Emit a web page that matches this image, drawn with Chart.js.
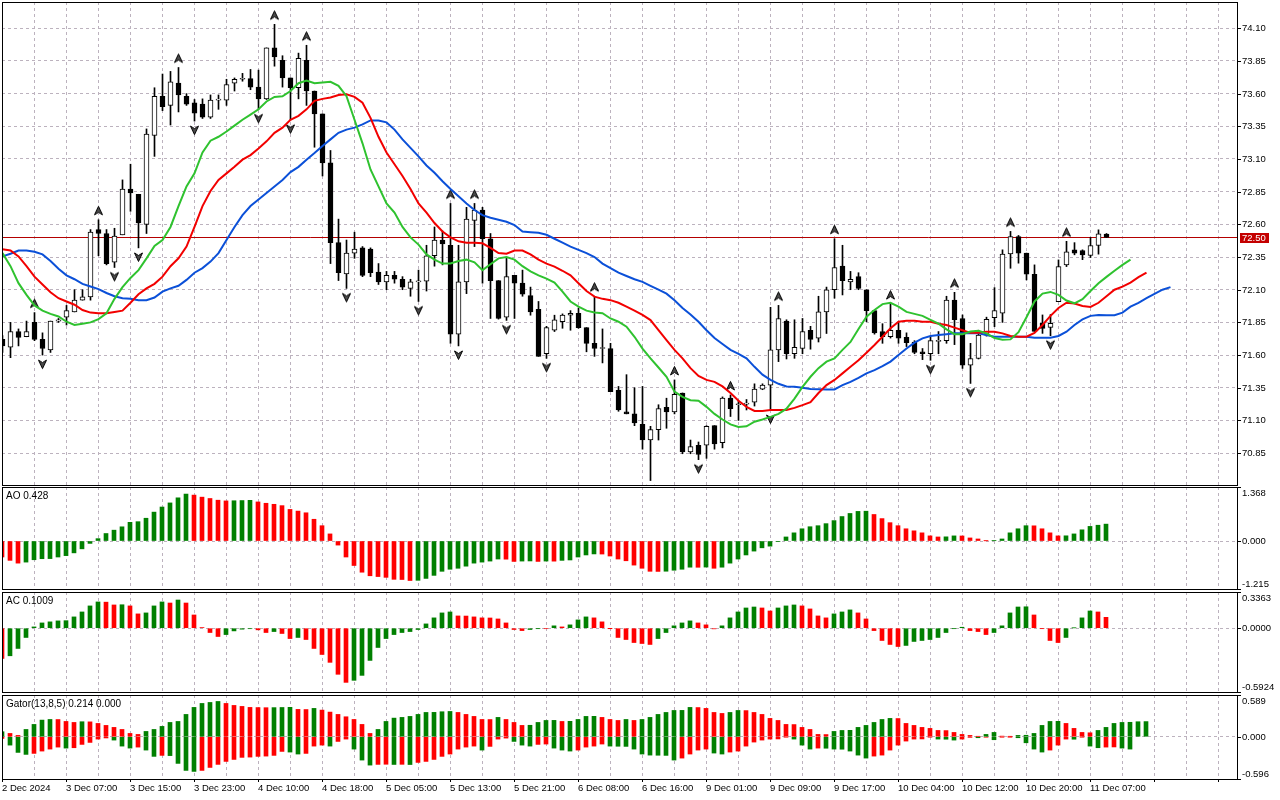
<!DOCTYPE html>
<html>
<head>
<meta charset="utf-8">
<script src="https://cdn.jsdelivr.net/npm/chart.js@4.4.1/dist/chart.umd.min.js"></script>
<style>
  html, body { margin: 0; padding: 0; background: #fff; }
  #wrap { position: relative; width: 1280px; height: 800px; overflow: hidden; }
  canvas { position: absolute; left: 0; }
</style>
</head>
<body>
<div id="wrap">
  <canvas id="main" width="1280" height="486" style="top:0px"></canvas>
  <canvas id="ao" width="1280" height="104" style="top:486px"></canvas>
  <canvas id="ac" width="1280" height="102" style="top:591px"></canvas>
  <canvas id="gator" width="1280" height="106" style="top:694px"></canvas>
</div>
<script>
// H1 bars, index 0 = first visible bar
const timeLabels = ['2 Dec 2024', '3 Dec 07:00', '3 Dec 15:00', '3 Dec 23:00', '4 Dec 10:00', '4 Dec 18:00',
  '5 Dec 05:00', '5 Dec 13:00', '5 Dec 21:00', '6 Dec 08:00', '6 Dec 16:00', '9 Dec 01:00', '9 Dec 09:00',
  '9 Dec 17:00', '10 Dec 04:00', '10 Dec 12:00', '10 Dec 20:00', '11 Dec 07:00'];
const priceTicks = [70.85, 71.10, 71.35, 71.60, 71.85, 72.10, 72.35, 72.60, 72.85, 73.10, 73.35, 73.60, 73.85, 74.10];
const lastPrice = 72.50;

const open = [
  71.72, 71.66, 71.78, 71.74, 71.85, 71.72, 71.64, 71.86, 71.89, 71.93,
  72.02, 72.045, 72.56, 72.53, 72.31, 72.52, 72.87, 72.83, 72.60, 73.28,
  73.58, 73.51, 73.68, 73.58, 73.53, 73.52, 73.42, 73.55, 73.55, 73.68,
  73.71, 73.715, 73.65, 73.56, 73.95, 73.855, 73.72, 73.645, 73.855, 73.62,
  73.445, 73.07, 72.46, 72.22, 72.38, 72.42, 72.41, 72.235, 72.16, 72.21,
  72.18, 72.11, 72.16, 72.165, 72.36, 72.48, 72.44, 71.76, 72.16, 72.63,
  72.71, 72.49, 72.17, 71.89, 72.21, 72.15, 72.055, 71.95, 71.61, 71.79,
  71.855, 71.905, 71.92, 71.81, 71.69, 71.65, 71.65, 71.33, 71.165, 71.15,
  71.07, 70.95, 71.03, 71.20, 71.165, 71.31, 70.86, 70.91, 70.91, 71.06,
  70.93, 71.27, 71.22, 71.225, 71.24, 71.34, 71.37, 71.64, 71.86, 71.61,
  71.65, 71.79, 71.73, 71.93, 72.10, 72.28, 72.16, 72.20, 72.10, 71.94,
  71.78, 71.74, 71.79, 71.735, 71.70, 71.625, 71.61, 71.705, 71.71, 72.02,
  71.88, 71.523, 71.574, 71.753, 71.886, 71.92, 72.374, 72.507, 72.38, 72.218,
  71.843, 71.812, 72.009, 72.29, 72.405, 72.40, 72.362, 72.438, 72.525];
const high = [
  71.75, 71.85, 71.80, 71.86, 71.925, 71.77, 71.86, 71.88, 71.98, 72.10,
  72.10, 72.56, 72.635, 72.56, 72.57, 72.94, 73.06, 72.83, 73.33, 73.645,
  73.75, 73.77, 73.80, 73.60, 73.555, 73.56, 73.59, 73.59, 73.71, 73.72,
  73.755, 73.785, 73.78, 73.95, 74.13, 73.89, 73.72, 73.91, 73.97, 73.62,
  73.445, 73.165, 72.64, 72.48, 72.54, 72.43, 72.42, 72.30, 72.24, 72.24,
  72.20, 72.18, 72.25, 72.44, 72.58, 72.55, 72.76, 72.44, 72.73, 72.76,
  72.73, 72.53, 72.17, 72.34, 72.21, 72.25, 72.12, 72.01, 71.82, 71.905,
  71.915, 71.94, 71.96, 71.81, 72.05, 71.80, 71.69, 71.36, 71.45, 71.35,
  71.36, 71.055, 71.22, 71.27, 71.41, 71.31, 70.95, 70.935, 71.06, 71.06,
  71.28, 71.295, 71.25, 71.26, 71.38, 71.38, 71.965, 71.98, 71.87, 71.87,
  71.88, 71.82, 72.05, 72.12, 72.49, 72.44, 72.24, 72.23, 72.10, 71.94,
  71.84, 71.99, 71.855, 71.77, 71.71, 71.65, 71.74, 71.78, 72.05, 72.08,
  71.907, 71.69, 71.79, 71.89, 72.116, 72.405, 72.546, 72.515, 72.38, 72.29,
  71.907, 71.91, 72.328, 72.47, 72.46, 72.405, 72.50, 72.558, 72.53];
const low = [
  71.62, 71.58, 71.67, 71.74, 71.71, 71.60, 71.62, 71.85, 71.83, 71.93,
  72.02, 72.02, 72.36, 72.29, 72.27, 72.52, 72.70, 72.42, 72.53, 73.12,
  73.47, 73.36, 73.46, 73.51, 73.39, 73.41, 73.41, 73.48, 73.51, 73.62,
  73.695, 73.63, 73.48, 73.555, 73.81, 73.65, 73.40, 73.56, 73.51, 73.19,
  72.97, 72.30, 72.17, 72.11, 72.34, 72.20, 72.20, 72.14, 72.10, 72.15,
  72.10, 72.05, 72.01, 72.09, 72.28, 72.29, 71.69, 71.67, 72.07, 72.43,
  72.15, 71.88, 71.875, 71.865, 71.88, 72.05, 71.905, 71.59, 71.575, 71.78,
  71.805, 71.79, 71.805, 71.625, 71.59, 71.54, 71.32, 71.17, 71.15, 71.06,
  70.88, 70.64, 70.95, 71.04, 71.15, 70.845, 70.845, 70.80, 70.81, 70.88,
  70.89, 71.13, 71.10, 71.18, 71.21, 71.335, 71.18, 71.55, 71.57, 71.575,
  71.61, 71.645, 71.70, 71.765, 72.035, 72.06, 72.10, 72.10, 71.855, 71.76,
  71.69, 71.73, 71.69, 71.665, 71.61, 71.565, 71.56, 71.61, 71.69, 71.68,
  71.498, 71.383, 71.57, 71.745, 71.817, 71.85, 72.264, 72.303, 72.175, 71.78,
  71.766, 71.748, 72.009, 72.277, 72.367, 72.33, 72.346, 72.372, 72.50];
const close = [
  71.67, 71.78, 71.735, 71.78, 71.72, 71.65, 71.86, 71.87, 71.94, 72.02,
  72.045, 72.54, 72.53, 72.30, 72.51, 72.87, 72.84, 72.61, 73.29, 73.58,
  73.50, 73.69, 73.59, 73.52, 73.45, 73.42, 73.55, 73.555, 73.67, 73.71,
  73.715, 73.65, 73.56, 73.95, 73.88, 73.72, 73.645, 73.87, 73.62, 73.445,
  73.07, 72.46, 72.23, 72.38, 72.41, 72.21, 72.23, 72.16, 72.21, 72.18,
  72.12, 72.16, 72.165, 72.36, 72.48, 72.45, 71.76, 72.16, 72.64, 72.71,
  72.49, 72.17, 71.88, 72.20, 72.15, 72.065, 71.93, 71.59, 71.81, 71.87,
  71.905, 71.92, 71.81, 71.69, 71.65, 71.652, 71.32, 71.18, 71.15, 71.08,
  70.95, 71.03, 71.19, 71.165, 71.30, 70.86, 70.90, 70.84, 71.055, 70.92,
  71.27, 71.19, 71.225, 71.225, 71.34, 71.37, 71.64, 71.88, 71.61, 71.66,
  71.78, 71.72, 71.93, 72.10, 72.27, 72.17, 72.18, 72.11, 71.94, 71.77,
  71.74, 71.79, 71.73, 71.695, 71.62, 71.61, 71.71, 71.71, 72.02, 71.87,
  71.523, 71.574, 71.753, 71.874, 71.94, 72.372, 72.507, 72.38, 72.218, 71.78,
  71.804, 71.843, 72.277, 72.39, 72.38, 72.367, 72.438, 72.528, 72.50];

// Alligator lines as drawn (already shifted forward)
const lips = [
  72.38, 72.28, 72.15, 72.06, 71.98, 71.94, 71.915, 71.895, 71.855, 71.83,
  71.84, 71.85, 71.875, 71.92, 72.03, 72.12, 72.19, 72.25, 72.34, 72.435,
  72.48, 72.58, 72.74, 72.89, 72.99, 73.15, 73.24, 73.27, 73.31, 73.355,
  73.40, 73.44, 73.48, 73.54, 73.575, 73.58, 73.62, 73.68, 73.70, 73.68,
  73.685, 73.69, 73.66, 73.58, 73.40, 73.22, 73.02, 72.89, 72.76, 72.69,
  72.58, 72.50, 72.445, 72.37, 72.33, 72.30, 72.30, 72.32, 72.33, 72.31,
  72.25, 72.295, 72.34, 72.35, 72.33, 72.28, 72.24, 72.21, 72.185, 72.155,
  72.086, 72.01, 71.97, 71.94, 71.925, 71.92, 71.88, 71.855, 71.817, 71.74,
  71.65, 71.575, 71.505, 71.434, 71.32, 71.28, 71.255, 71.25, 71.204, 71.15,
  71.107, 71.07, 71.05, 71.055, 71.09, 71.107, 71.127, 71.15, 71.19, 71.267,
  71.357, 71.434, 71.50, 71.55, 71.575, 71.64, 71.70, 71.80, 71.894, 71.945,
  71.99, 72.00, 71.97, 71.93, 71.915, 71.90, 71.87, 71.84, 71.797, 71.76,
  71.76, 71.78, 71.786, 71.766, 71.73, 71.718, 71.72, 71.775, 71.89, 72.01,
  72.07, 72.083, 72.06, 72.017, 71.996, 72.027, 72.09, 72.15, 72.198, 72.245,
  72.29, 72.33];
const teeth = [
  72.41, 72.40, 72.355, 72.28, 72.20, 72.14, 72.08, 72.035, 72.01, 71.985,
  71.945, 71.925, 71.92, 71.92, 71.93, 71.94, 72.00, 72.065, 72.11, 72.145,
  72.20, 72.28, 72.34, 72.43, 72.58, 72.74, 72.855, 72.94, 72.99, 73.04,
  73.095, 73.13, 73.18, 73.235, 73.30, 73.34, 73.40, 73.43, 73.48, 73.545,
  73.56, 73.57, 73.59, 73.595, 73.575, 73.53, 73.415, 73.27, 73.15, 73.06,
  72.97, 72.87, 72.76, 72.69, 72.61, 72.545, 72.50, 72.47, 72.46, 72.46,
  72.455, 72.42, 72.38, 72.375, 72.40, 72.40, 72.37, 72.33, 72.30, 72.277,
  72.245, 72.21, 72.15, 72.09, 72.047, 72.03, 72.02, 72.00, 71.97, 71.94,
  71.907, 71.868, 71.79, 71.715, 71.64, 71.575, 71.50, 71.44, 71.41, 71.395,
  71.36, 71.31, 71.25, 71.204, 71.173, 71.172, 71.18, 71.18, 71.18, 71.196,
  71.217, 71.24, 71.31, 71.37, 71.41, 71.46, 71.51, 71.56, 71.618, 71.677,
  71.74, 71.805, 71.855, 71.863, 71.862, 71.855, 71.855, 71.84, 71.83, 71.81,
  71.79, 71.77, 71.77, 71.779, 71.779, 71.766, 71.746, 71.74, 71.74, 71.77,
  71.83, 71.90, 71.96, 72.00, 71.995, 71.975, 71.968, 72.00, 72.05, 72.10,
  72.124, 72.155, 72.196, 72.23];
const jaw = [
  72.355, 72.375, 72.40, 72.40, 72.39, 72.37, 72.32, 72.26, 72.21, 72.18,
  72.145, 72.125, 72.105, 72.075, 72.05, 72.035, 72.03, 72.02, 72.02, 72.04,
  72.085, 72.11, 72.13, 72.175, 72.23, 72.265, 72.315, 72.38, 72.48, 72.58,
  72.67, 72.74, 72.79, 72.84, 72.89, 72.94, 73.00, 73.04, 73.095, 73.145,
  73.20, 73.25, 73.30, 73.325, 73.34, 73.365, 73.395, 73.395, 73.38, 73.325,
  73.25, 73.185, 73.12, 73.05, 72.995, 72.93, 72.87, 72.815, 72.76, 72.71,
  72.67, 72.65, 72.635, 72.62, 72.595, 72.545, 72.54, 72.535, 72.52, 72.49,
  72.46, 72.43, 72.405, 72.38, 72.35, 72.30, 72.265, 72.23, 72.205, 72.18,
  72.16, 72.13, 72.10, 72.07, 72.02, 71.96, 71.91, 71.855, 71.79, 71.73,
  71.685, 71.64, 71.61, 71.575, 71.51, 71.45, 71.41, 71.38, 71.36, 71.357,
  71.35, 71.34, 71.338, 71.337, 71.337, 71.37, 71.395, 71.426, 71.46, 71.485,
  71.515, 71.55, 71.60, 71.65, 71.695, 71.728, 71.746, 71.753, 71.76, 71.766,
  71.766, 71.766, 71.766, 71.753, 71.74, 71.74, 71.74, 71.74, 71.74, 71.733,
  71.733, 71.733, 71.746, 71.779, 71.83, 71.873, 71.90, 71.907, 71.905, 71.905,
  71.925, 71.97, 72.00, 72.035, 72.068, 72.10, 72.12];

// bar indexes that carry a fractal arrow
const fractalUp = [4, 12, 22, 34, 38, 56, 59, 74, 84, 91, 97, 104, 111, 119, 126, 133];
const fractalDown = [5, 14, 17, 24, 32, 36, 43, 52, 57, 63, 68, 81, 87, 96, 116, 121, 131];

const ao = [
  -0.405, -0.49, -0.56, -0.534, -0.474, -0.448, -0.445, -0.405, -0.37, -0.30,
  -0.198, -0.06, 0.06, 0.19, 0.275, 0.36, 0.474, 0.49, 0.577, 0.732,
  0.861, 0.965, 1.094, 1.189, 1.163, 1.111, 1.077, 1.034, 1.016, 1.02,
  1.025, 1.03, 0.99, 0.956, 0.93, 0.896, 0.80, 0.758, 0.715, 0.551,
  0.388, 0.18, -0.103, -0.405, -0.62, -0.79, -0.88, -0.90, -0.92, -0.97,
  -0.975, -1.00, -0.995, -0.947, -0.87, -0.767, -0.715, -0.69, -0.637, -0.56,
  -0.534, -0.508, -0.456, -0.46, -0.517, -0.508, -0.505, -0.517, -0.508, -0.51,
  -0.49, -0.48, -0.405, -0.353, -0.327, -0.33, -0.38, -0.456, -0.50, -0.61,
  -0.69, -0.767, -0.77, -0.765, -0.74, -0.715, -0.663, -0.665, -0.66, -0.69,
  -0.663, -0.56, -0.456, -0.353, -0.255, -0.172, -0.13, -0.01, 0.103, 0.207,
  0.31, 0.362, 0.388, 0.44, 0.517, 0.62, 0.698, 0.75, 0.755, 0.672,
  0.568, 0.465, 0.388, 0.31, 0.258, 0.207, 0.13, 0.103, 0.106, 0.13,
  0.128, 0.078, 0.052, 0.005, 0.008, 0.052, 0.207, 0.31, 0.388, 0.385,
  0.31, 0.207, 0.13, 0.132, 0.18, 0.284, 0.37, 0.40, 0.428];
const ac = [
  -0.281, -0.256, -0.188, -0.086, 0.012, 0.049, 0.059, 0.068, 0.07, 0.105,
  0.151, 0.207, 0.244, 0.242, 0.216, 0.218, 0.207, 0.133, 0.142, 0.207,
  0.244, 0.234, 0.262, 0.234, 0.123, 0.006, -0.04, -0.077, -0.059, -0.025,
  -0.009, -0.004, -0.015, -0.04, -0.031, -0.049, -0.096, -0.086, -0.105, -0.188,
  -0.244, -0.317, -0.428, -0.503, -0.484, -0.438, -0.299, -0.179, -0.096, -0.059,
  -0.04, -0.031, -0.012, 0.04, 0.096, 0.142, 0.151, 0.114, 0.113, 0.105,
  0.096, 0.095, 0.086, 0.049, -0.012, -0.022, -0.012, -0.003, -0.004, 0.022,
  0.012, 0.031, 0.077, 0.105, 0.096, 0.059, -0.001, -0.086, -0.105, -0.133,
  -0.142, -0.151, -0.096, -0.04, 0.022, 0.049, 0.068, 0.049, 0.031, -0.006,
  0.022, 0.096, 0.151, 0.188, 0.197, 0.188, 0.16, 0.188, 0.207, 0.216,
  0.207, 0.179, 0.114, 0.096, 0.133, 0.151, 0.17, 0.142, 0.086, -0.022,
  -0.114, -0.151, -0.17, -0.16, -0.123, -0.114, -0.105, -0.086, -0.04, -0.003,
  0.009, -0.022, -0.031, -0.059, -0.04, 0.022, 0.142, 0.197, 0.199, 0.123,
  -0.003, -0.114, -0.133, -0.086, 0.003, 0.096, 0.16, 0.151, 0.1009];
const gatorUp = [
  0.071, 0.047, 0.019, 0.103, 0.174, 0.235, 0.244, 0.243, 0.216, 0.202,
  0.212, 0.210, 0.188, 0.160, 0.132, 0.103, 0.047, 0.033, 0.075, 0.103,
  0.146, 0.202, 0.216, 0.315, 0.414, 0.470, 0.484, 0.498, 0.470, 0.442,
  0.428, 0.414, 0.412, 0.410, 0.411, 0.413, 0.415, 0.386, 0.384, 0.400,
  0.376, 0.348, 0.315, 0.282, 0.244, 0.174, 0.047, 0.103, 0.216, 0.263,
  0.273, 0.287, 0.315, 0.343, 0.344, 0.353, 0.357, 0.343, 0.315, 0.287,
  0.244, 0.243, 0.273, 0.244, 0.202, 0.160, 0.162, 0.202, 0.230, 0.231,
  0.216, 0.218, 0.244, 0.287, 0.288, 0.273, 0.244, 0.230, 0.244, 0.230,
  0.244, 0.273, 0.315, 0.343, 0.371, 0.372, 0.414, 0.412, 0.400, 0.343,
  0.329, 0.343, 0.371, 0.369, 0.343, 0.315, 0.259, 0.230, 0.174, 0.172,
  0.132, 0.103, 0.033, 0.031, 0.075, 0.089, 0.091, 0.132, 0.160, 0.202,
  0.244, 0.259, 0.257, 0.188, 0.160, 0.132, 0.118, 0.089, 0.087, 0.061,
  0.033, 0.019, 0.004, 0.033, 0.061, 0.009, 0.005, 0.019, 0.021, 0.047,
  0.160, 0.216, 0.218, 0.188, 0.118, 0.061, 0.056, 0.089, 0.132, 0.188,
  0.202, 0.204, 0.212, 0.214];
const gatorDown = [
  -0.024, -0.118, -0.221, -0.249, -0.235, -0.202, -0.174, -0.146, -0.160, -0.155,
  -0.108, -0.080, -0.033, -0.017, -0.047, -0.132, -0.160, -0.146, -0.188, -0.277,
  -0.263, -0.266, -0.376, -0.475, -0.489, -0.475, -0.433, -0.390, -0.348, -0.320,
  -0.291, -0.287, -0.277, -0.273, -0.263, -0.207, -0.216, -0.244, -0.235, -0.132,
  -0.118, -0.132, -0.066, -0.033, -0.174, -0.329, -0.400, -0.390, -0.388, -0.391,
  -0.389, -0.392, -0.362, -0.348, -0.320, -0.277, -0.244, -0.174, -0.146, -0.132,
  -0.188, -0.136, -0.033, -0.019, -0.066, -0.118, -0.132, -0.108, -0.103, -0.160,
  -0.188, -0.202, -0.188, -0.146, -0.132, -0.103, -0.132, -0.134, -0.136, -0.174,
  -0.244, -0.259, -0.261, -0.263, -0.329, -0.301, -0.244, -0.188, -0.174, -0.230,
  -0.244, -0.216, -0.202, -0.132, -0.075, -0.047, -0.033, -0.031, -0.005, -0.033,
  -0.118, -0.174, -0.160, -0.162, -0.174, -0.176, -0.202, -0.259, -0.301, -0.273,
  -0.259, -0.188, -0.118, -0.061, -0.033, -0.031, -0.005, -0.033, -0.035, -0.047,
  -0.033, -0.009, -0.014, -0.005, -0.042, -0.005, -0.002, -0.014, -0.085, -0.174,
  -0.216, -0.188, -0.118, -0.033, -0.035, -0.005, -0.132, -0.155, -0.146, -0.144,
  -0.160, -0.174];

const FONT = '"Liberation Sans", Arial, sans-serif';
const GRID = '#bcb2be';
const UP = '#008000';
const DOWN = '#ff0000';
const PLOT_W = 1235; // plot width in px, 8 px per bar

Chart.defaults.font.family = FONT;
Chart.defaults.font.size = 9.5;
Chart.defaults.color = '#000';

const gridIdx = [];
for (let v = 0; v <= 152; v += 4) gridIdx.push(v);

function xAxis(min, labels) {
  return {
    type: 'linear', min: min, max: min + PLOT_W / 8, offset: false,
    afterBuildTicks: s => { s.ticks = gridIdx.map(v => ({ value: v })); },
    afterFit: s => { s.height = labels ? 21 : 0; },
    grid: {
      color: GRID, offset: false, drawTicks: labels, tickLength: 3, tickBorderDash: [],
      tickColor: c => (c.tick && c.tick.value % 8 === 0) ? '#000' : 'rgba(0,0,0,0)'
    },
    border: { display: false, dash: [3, 3] },
    ticks: {
      display: labels, autoSkip: false, maxRotation: 0, minRotation: 0, align: 'start', padding: 1,
      callback: v => (v % 8 === 0 && timeLabels[v / 8]) ? timeLabels[v / 8] : ''
    }
  };
}

function yAxis(min, max, gridVals) {
  return {
    type: 'linear', position: 'right', min: min, max: max,
    afterBuildTicks: s => { s.ticks = gridVals.map(v => ({ value: v })); },
    afterFit: s => { s.width = 1280 - 2 - PLOT_W; },
    grid: { color: GRID, drawTicks: false },
    border: { display: false, dash: [3, 3] },
    ticks: { display: false }
  };
}

// frame, right-hand scale labels, panel title, last price line
function panelPlugin(items, title, price) {
  return {
    id: 'panel',
    beforeDatasetsDraw(chart) {
      if (price == null) return;
      const a = chart.chartArea, ctx = chart.ctx;
      const py = Math.round(chart.scales.y.getPixelForValue(price)) + 0.5;
      ctx.save();
      ctx.strokeStyle = '#b40000';
      ctx.lineWidth = 1;
      ctx.beginPath(); ctx.moveTo(a.left, py); ctx.lineTo(a.right, py); ctx.stroke();
      ctx.restore();
    },
    afterDraw(chart) {
      const a = chart.chartArea, ctx = chart.ctx, y = chart.scales.y;
      ctx.save();
      ctx.strokeStyle = '#000';
      ctx.lineWidth = 1;
      ctx.strokeRect(a.left + 0.5, a.top + 0.5, a.right - a.left, a.bottom - a.top);
      ctx.font = '9.5px ' + FONT;
      ctx.textBaseline = 'middle';
      ctx.textAlign = 'left';
      ctx.fillStyle = '#000';
      items.forEach(([v, t]) => {
        const py = y.getPixelForValue(v);
        const ly = Math.min(Math.max(Math.round(py), a.top), a.bottom) + 0.5;
        ctx.beginPath(); ctx.moveTo(a.right, ly); ctx.lineTo(a.right + 4, ly); ctx.stroke();
        const ty = Math.round(Math.min(Math.max(py, a.top + 5.5), a.bottom - 5));
        ctx.fillText(t, a.right + 5, ty);
      });
      if (price != null) {
        const py = Math.round(y.getPixelForValue(price));
        ctx.fillStyle = '#c40000';
        ctx.fillRect(a.right + 3, py - 4, 29, 10);
        ctx.fillStyle = '#fff';
        ctx.fillText(price.toFixed(2), a.right + 5, py + 1);
      }
      if (title) {
        ctx.fillStyle = '#000';
        ctx.font = '10px ' + FONT;
        ctx.fillText(title, a.left + 4, a.top + 9.5);
      }
      ctx.restore();
    }
  };
}

function arrowImage(up) {
  const c = document.createElement('canvas');
  c.width = 11; c.height = 30;
  const g = c.getContext('2d');
  g.translate(0, up ? 6 : 24);
  if (!up) g.scale(1, -1);
  g.beginPath();
  g.moveTo(5.5, -4.5); g.lineTo(9.5, 4); g.lineTo(5.5, 1.5); g.lineTo(1.5, 4);
  g.closePath();
  g.fillStyle = '#4a4a4a'; g.fill();
  g.strokeStyle = '#000'; g.lineWidth = 1; g.stroke();
  return c;
}

const baseOptions = {
  responsive: false, animation: false, devicePixelRatio: 1, events: [],
  plugins: { legend: { display: false }, tooltip: { enabled: false } }
};

function pts(arr) { return arr.map((v, i) => ({ x: i, y: v })); }

// ---- price panel
new Chart(document.getElementById('main'), {
  type: 'bar',
  data: {
    datasets: [
      { type: 'line', data: pts(lips), borderColor: '#2fc22f', borderWidth: 2, pointRadius: 0, tension: 0 },
      { type: 'line', data: pts(teeth), borderColor: '#f20000', borderWidth: 2, pointRadius: 0, tension: 0 },
      { type: 'line', data: pts(jaw), borderColor: '#0b50d8', borderWidth: 2, pointRadius: 0, tension: 0 },
      { type: 'line', data: fractalUp.map(i => ({ x: i, y: high[i] })), showLine: false,
        pointStyle: arrowImage(true), pointRadius: 5 },
      { type: 'line', data: fractalDown.map(i => ({ x: i, y: low[i] })), showLine: false,
        pointStyle: arrowImage(false), pointRadius: 5 },
      { type: 'bar', data: open.map((o, i) => ({ x: i, y: [o, close[i]] })),
        backgroundColor: open.map((o, i) => close[i] >= o ? '#ffffff' : '#000000'),
        borderColor: '#000', borderWidth: 1, borderSkipped: false, barThickness: 5, grouped: false, minBarLength: 1 },
      { type: 'bar', data: low.map((l, i) => ({ x: i, y: [l, high[i]] })),
        backgroundColor: '#000', barThickness: 1, grouped: false }
    ]
  },
  options: Object.assign({}, baseOptions, {
    layout: { autoPadding: false, padding: { left: 2, top: 2, bottom: 1, right: 0 } },
    scales: { x: xAxis(-0.0625, false), y: yAxis(70.606, 74.301, priceTicks) }
  }),
  plugins: [panelPlugin(priceTicks.map(v => [v, v.toFixed(2)]), null, lastPrice)]
});

function risingColors(arr) {
  return arr.map((v, i) => (i > 0 && v > arr[i - 1]) ? UP : DOWN);
}
function wideningColors(arr, first) {
  return arr.map((v, i) => i === 0 ? first : (Math.abs(v) > Math.abs(arr[i - 1]) ? UP : DOWN));
}

function histPanel(id, datasets, min, max, items, title, labels) {
  new Chart(document.getElementById(id), {
    type: 'bar',
    data: { datasets: datasets },
    options: Object.assign({}, baseOptions, {
      layout: { autoPadding: false, padding: { left: 2, top: 1, bottom: labels ? 0 : 1, right: 0 } },
      scales: { x: xAxis(0, labels), y: yAxis(min, max, [0]) }
    }),
    plugins: [panelPlugin(items, title, null)]
  });
}

histPanel('ao', [
  { data: pts(ao), backgroundColor: risingColors(ao), barThickness: 4, grouped: false }
], -1.215, 1.368, [[1.368, '1.368'], [0, '0.000'], [-1.215, '-1.215']], 'AO 0.428', false);

histPanel('ac', [
  { data: pts(ac), backgroundColor: risingColors(ac), barThickness: 4, grouped: false }
], -0.5924, 0.3363, [[0.3363, '0.3363'], [0, '0.0000'], [-0.5924, '-0.5924']], 'AC 0.1009', false);

histPanel('gator', [
  { data: pts(gatorUp), backgroundColor: wideningColors(gatorUp, UP), barThickness: 4, grouped: false },
  { data: pts(gatorDown), backgroundColor: wideningColors(gatorDown, DOWN), barThickness: 4, grouped: false }
], -0.596, 0.589, [[0.589, '0.589'], [0, '0.000'], [-0.596, '-0.596']], 'Gator(13,8,5) 0.214 0.000', true);
</script>
</body>
</html>
